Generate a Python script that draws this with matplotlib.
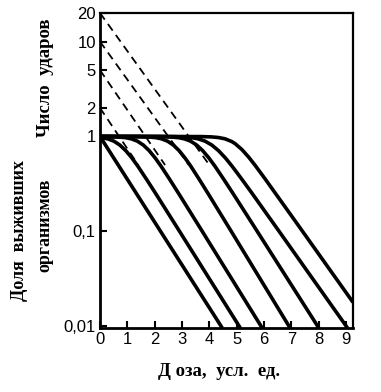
import matplotlib
matplotlib.use("Agg")
import matplotlib.pyplot as plt
from matplotlib.ticker import FixedLocator, NullLocator

# ---- data ----
# survival curves (dose, surviving fraction), one per hit/target number
curve_1_x = [0.0, 4.47]
curve_1_y = [1.0, 0.0096]

curve_2_x = [0.0, 0.072, 0.29, 0.509, 0.727, 0.945, 1.164, 1.382, 1.709, 2.037, 2.91, 5.13]
curve_2_y = [1.0, 0.972, 0.943, 0.892, 0.812, 0.708, 0.595, 0.487, 0.351, 0.2504, 0.1, 0.0096]

curve_3_x = [0.0, 0.291, 0.614, 0.938, 1.153, 1.369, 1.584, 1.800, 2.015, 2.231, 2.554, 2.877, 3.74, 5.93]
curve_3_y = [1.0, 0.997, 0.991, 0.972, 0.943, 0.892, 0.812, 0.708, 0.595, 0.487, 0.351, 0.2504, 0.1, 0.0096]

curve_4_x = [0.0, 0.567, 1.413, 1.731, 2.048, 2.260, 2.471, 2.683, 2.895, 3.106, 3.318, 3.635, 3.952, 4.8, 6.95]
curve_4_y = [1.0, 1.0, 0.997, 0.991, 0.972, 0.943, 0.892, 0.812, 0.708, 0.595, 0.487, 0.351, 0.2504, 0.1, 0.0096]

curve_5_x = [0.0, 1.3, 2.208, 2.540, 2.872, 3.093, 3.315, 3.536, 3.758, 3.979, 4.201, 4.533, 4.865, 5.75, 8.0]
curve_5_y = [1.0, 1.0, 0.997, 0.991, 0.972, 0.943, 0.892, 0.812, 0.708, 0.595, 0.487, 0.351, 0.2504, 0.1, 0.0096]

curve_6_x = [0.0, 1.6, 2.613, 2.982, 3.351, 3.597, 3.843, 4.090, 4.336, 4.582, 4.828, 5.197, 5.566, 6.55, 9.05]
curve_6_y = [1.0, 1.0, 0.997, 0.991, 0.972, 0.943, 0.892, 0.812, 0.708, 0.595, 0.487, 0.351, 0.2504, 0.1, 0.0096]

curve_7_x = [0.0, 2.5, 3.704, 4.074, 4.321, 4.568, 4.815, 4.938, 5.185, 5.432, 5.679, 6.049, 7.39, 9.25]
curve_7_y = [1.0, 1.0, 0.9975, 0.990, 0.976, 0.946, 0.885, 0.841, 0.730, 0.608, 0.4935, 0.3534, 0.1016, 0.0179]

curves_x = [curve_1_x, curve_2_x, curve_3_x, curve_4_x, curve_5_x, curve_6_x, curve_7_x]
curves_y = [curve_1_y, curve_2_y, curve_3_y, curve_4_y, curve_5_y, curve_6_y, curve_7_y]

# dashed extrapolations: start at the hit number on the dose = 0 axis
hit_numbers = [2, 5, 10, 20]
dash_end_x = [1.4, 2.38, 3.25, 4.0]
dash_end_y = [0.5, 0.5, 0.5, 0.5]

x_ticks = [0, 1, 2, 3, 4, 5, 6, 7, 8, 9]
y_ticks = [0.01, 0.1, 1, 2, 5, 10, 20]
y_tick_labels = ["0,01", "0,1", "1", "2", "5", "10", "20"]

# ---- drawing ----
W, H = 381, 392
fig = plt.figure(figsize=(W / 100, H / 100), dpi=100)
L, R, T, B = 100, 353, 13, 328
ax = fig.add_axes([L / W, 1 - B / H, (R - L) / W, (B - T) / H])

for xs, ys in zip(curves_x, curves_y):
    ax.plot(xs, ys, color="black", lw=2.6, solid_capstyle="butt", solid_joinstyle="round")

for n, xe, ye in zip(hit_numbers, dash_end_x, dash_end_y):
    ax.plot([0, xe], [n, ye], color="black", lw=1.3, dashes=(4.5, 3))

ax.set_yscale("log")
ax.set_xlim(0, 9.25)
ax.set_ylim(0.0096, 20)

ax.xaxis.set_major_locator(FixedLocator(x_ticks))
ax.yaxis.set_major_locator(FixedLocator(y_ticks))
ax.yaxis.set_minor_locator(NullLocator())
ax.set_yticklabels(y_tick_labels)
ax.tick_params(direction="in", length=5, width=1.5, labelsize=12, pad=3)
for lab in ax.get_xticklabels() + ax.get_yticklabels():
    lab.set_fontfamily("Liberation Sans")

for side in ["left", "bottom"]:
    ax.spines[side].set_linewidth(2.0)
for side in ["top", "right"]:
    ax.spines[side].set_linewidth(1.6)

serif = dict(family="Liberation Serif", fontweight="bold", color="black")
fig.text(45 / W, 1 - 78 / H, "Число  ударов", rotation=90, ha="center", va="center", fontsize=13.5, **serif)
fig.text(20 / W, 1 - 231 / H, "Доля  выживших", rotation=90, ha="center", va="center", fontsize=13, **serif)
fig.text(45 / W, 1 - 225 / H, "организмов", rotation=90, ha="center", va="center", fontsize=13, **serif)
fig.text(219 / W, 1 - 372 / H, "Д оза,  усл.  ед.", ha="center", va="center", fontsize=13.5, **serif)

fig.savefig("out.png", dpi=100)
